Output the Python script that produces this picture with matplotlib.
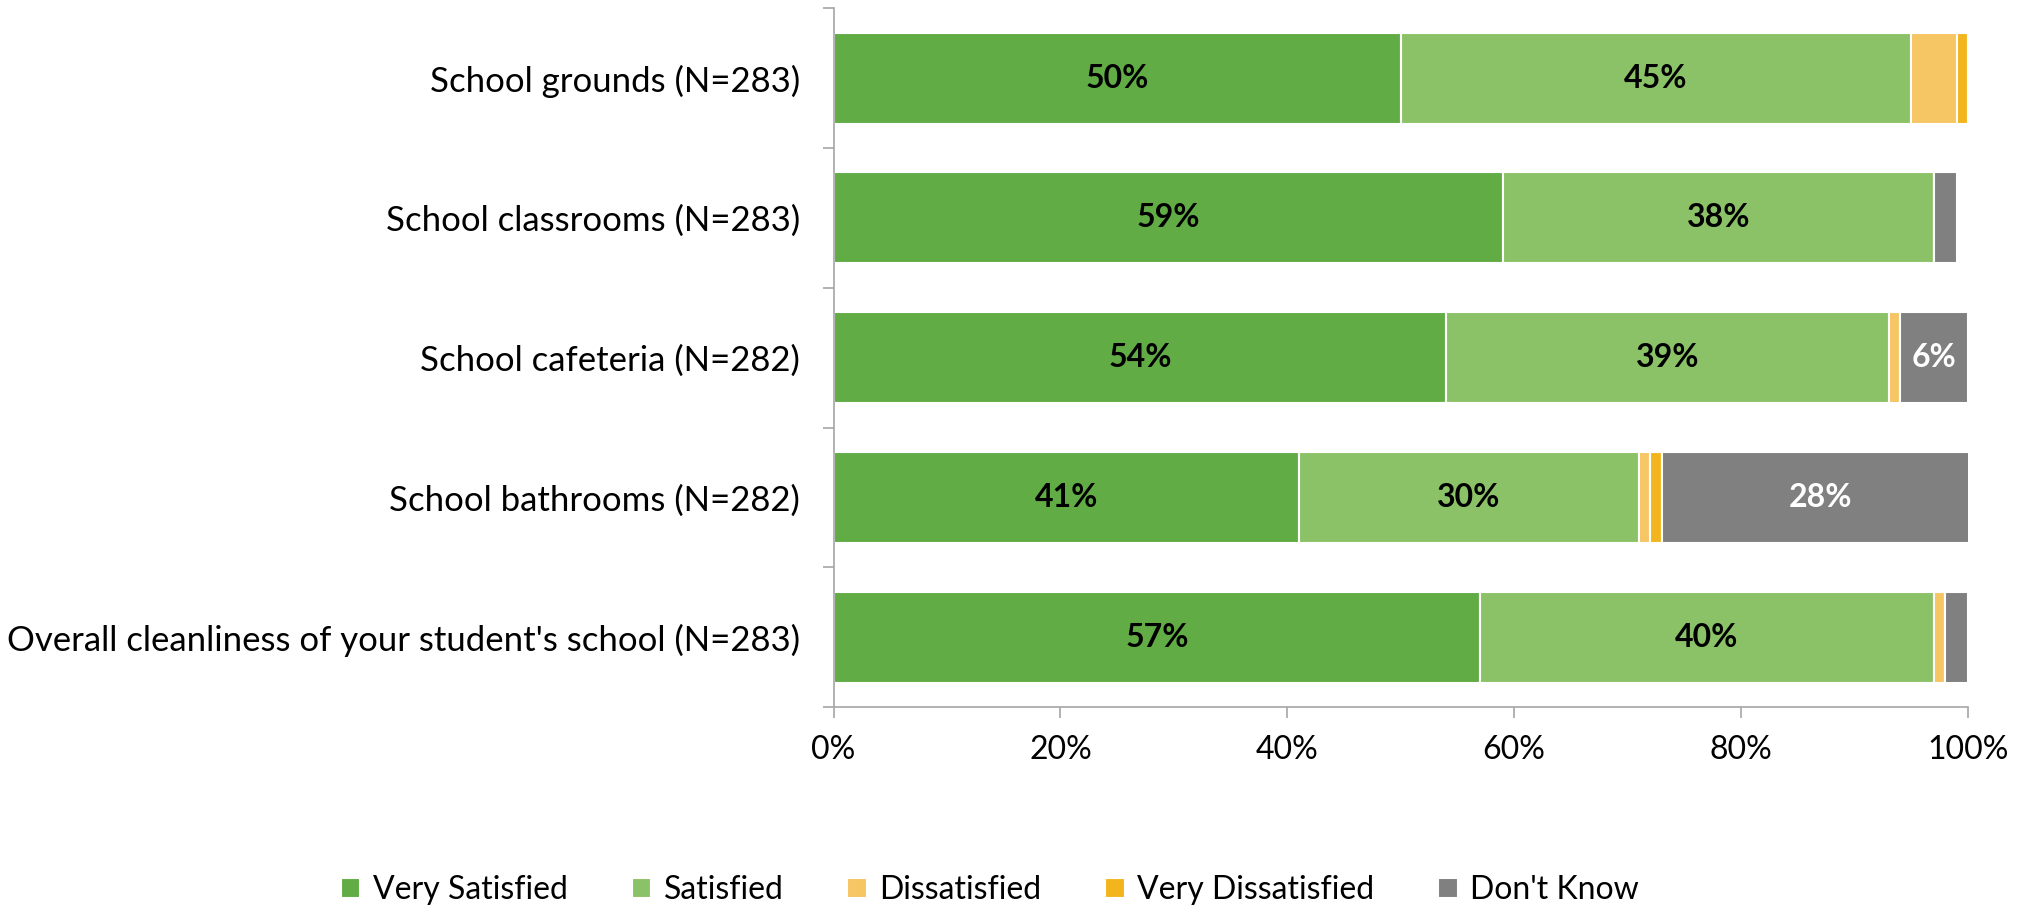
import matplotlib.pyplot as plt
import numpy as np

# survey categories, top to bottom
categories = [
    'School grounds (N=283)',
    'School classrooms (N=283)',
    'School cafeteria (N=282)',
    'School bathrooms (N=282)',
    "Overall cleanliness of your student's school (N=283)",
]
series_names = ['Very Satisfied', 'Satisfied', 'Dissatisfied', 'Very Dissatisfied', "Don't Know"]

very_satisfied = [50, 59, 54, 41, 57]
satisfied = [45, 38, 39, 30, 40]
dissatisfied = [4, 0, 1, 1, 1]
very_dissatisfied = [1, 0, 0, 1, 0]
dont_know = [0, 2, 6, 28, 2]

colors = ['#62AC46', '#8CC267', '#F6C564', '#F2B51E', '#808080']
label_colors = ['black', 'black', 'black', 'black', 'white']

plt.rcParams['font.family'] = ['Lato', 'DejaVu Sans']

fig = plt.figure(figsize=(20.33, 9.10), dpi=100)
ax = fig.add_axes([0.410, 0.223, 0.558, 0.768])

values = [very_satisfied, satisfied, dissatisfied, very_dissatisfied, dont_know]
y = np.arange(len(categories))
left = np.zeros(len(categories))
for name, vals, col, tcol in zip(series_names, values, colors, label_colors):
    vals = np.array(vals, dtype=float)
    ax.barh(y, vals, left=left, height=0.65, color=col, edgecolor='white',
            linewidth=1.5, label=name)
    for yi, l, v in zip(y, left, vals):
        if v >= 5:
            ax.text(l + v / 2, yi, f'{v:.0f}%', ha='center', va='center',
                    fontsize=23, fontweight='bold', color=tcol)
    left += vals

ax.set_ylim(len(categories) - 0.5, -0.5)
ax.set_xlim(0, 100)
ax.set_yticks(y)
ax.set_yticklabels(categories, fontsize=25)
ax.set_yticks(np.arange(-0.5, len(categories), 1), minor=True)
ax.tick_params(axis='y', which='major', length=0, pad=24)
ax.tick_params(axis='y', which='minor', length=8, color='#A6A6A6', width=1.2)

ax.set_xticks(np.arange(0, 101, 20))
ax.xaxis.set_major_formatter(plt.FuncFormatter(lambda v, _: f'{v:.0f}%'))
ax.tick_params(axis='x', labelsize=23, length=8, color='#A6A6A6', width=1.2, pad=12)

for side in ['top', 'right']:
    ax.spines[side].set_visible(False)
for side in ['left', 'bottom']:
    ax.spines[side].set_color('#A6A6A6')
    ax.spines[side].set_linewidth(1.2)

fig.legend(loc='center', bbox_to_anchor=(0.487, 0.022), ncol=5, frameon=False,
           fontsize=23, handlelength=0.6, handleheight=0.6, columnspacing=2.0,
           handletextpad=0.4)

plt.savefig('out.png', dpi=100, facecolor='white')
